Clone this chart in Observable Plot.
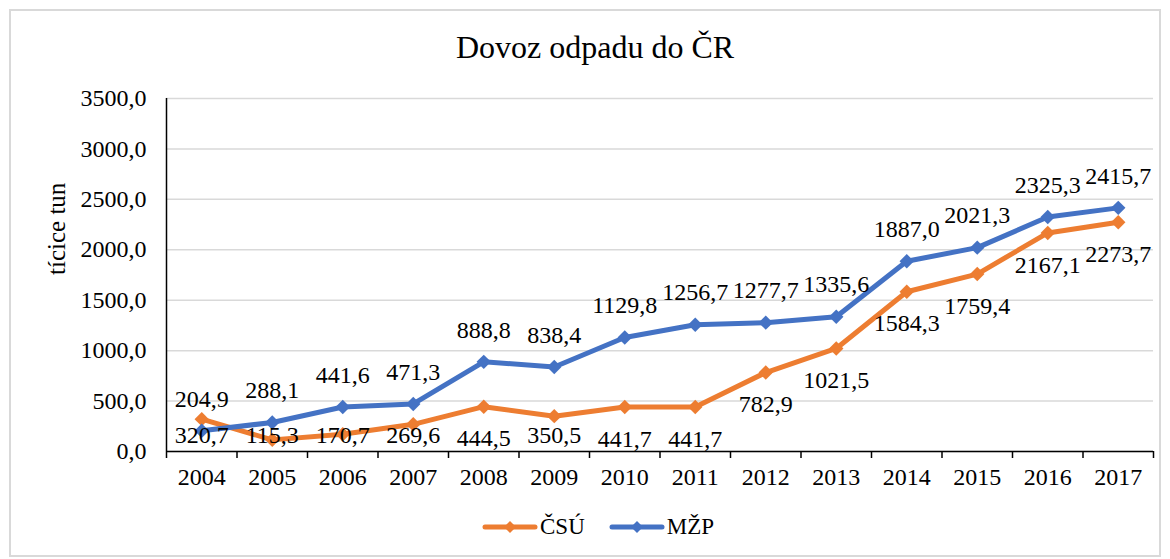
<!DOCTYPE html>
<html>
<head>
<meta charset="utf-8">
<script src="https://cdn.jsdelivr.net/npm/d3@7"></script>
<script src="https://cdn.jsdelivr.net/npm/@observablehq/plot@0.6"></script>
<style>
  html, body { margin: 0; padding: 0; background: #fff; }
  body { width: 1170px; height: 559px; position: relative; overflow: hidden; font-family: "Liberation Serif", Tinos, "Times New Roman", "DejaVu Serif", serif; color: #000; }
  #frame { position: absolute; left: 9px; top: 9px; width: 1152px; height: 548px; border: 2px solid #d9d9d9; box-sizing: border-box; }
  #title { position: absolute; left: 0; top: 31px; width: 1190px; text-align: center; font-size: 32px; line-height: 1; }
  #chart { position: absolute; left: 0; top: 0; }
  #legend { position: absolute; left: 482px; top: 515px; display: flex; align-items: center; font-size: 23px; line-height: 1; }
  .item { display: flex; align-items: center; margin-right: 24px; }
  .item svg { margin-right: 2px; }
</style>
</head>
<body>
<div id="frame"></div>
<div id="title">Dovoz odpadu do ČR</div>
<div id="chart"></div>
<div id="legend"></div>
<script>
const years = [2004, 2005, 2006, 2007, 2008, 2009, 2010, 2011, 2012, 2013, 2014, 2015, 2016, 2017];
const csu = [320.7, 115.3, 170.7, 269.6, 444.5, 350.5, 441.7, 441.7, 782.9, 1021.5, 1584.3, 1759.4, 2167.1, 2273.7];
const mzp = [204.9, 288.1, 441.6, 471.3, 888.8, 838.4, 1129.8, 1256.7, 1277.7, 1335.6, 1887.0, 2021.3, 2325.3, 2415.7];
const seriesNames = ["ČSÚ", "MŽP"];
const seriesColors = ["#ED7D31", "#4472C4"];
const yTicks = [0, 500, 1000, 1500, 2000, 2500, 3000, 3500];
const yLabel = "tícice tun";

const fmt = v => d3.format(".1f")(v).replace(".", ",");
const csuData = years.map((y, i) => ({year: y, value: csu[i], series: seriesNames[0]}));
const mzpData = years.map((y, i) => ({year: y, value: mzp[i], series: seriesNames[1]}));
const boundaries = [...years.map(y => y - 0.5), years[years.length - 1] + 0.5];

const FONT = "'Liberation Serif', Tinos, 'Times New Roman', 'DejaVu Serif', serif";
const FS = 24;
const chart = Plot.plot({
  width: 1170,
  height: 500,
  marginLeft: 166,
  marginRight: 17,
  marginTop: 98,
  marginBottom: 49,
  style: {fontFamily: FONT, fontSize: FS + "px", color: "#000", background: "transparent"},
  x: {type: "linear", domain: [boundaries[0], boundaries[boundaries.length - 1]], axis: null},
  y: {domain: [0, 3500], axis: null},
  color: {domain: seriesNames, range: seriesColors},
  marks: [
    Plot.gridY(yTicks, {stroke: "#d9d9d9", strokeOpacity: 1, strokeWidth: 1.5}),
    Plot.axisY(yTicks, {tickSize: 0, tickPadding: 20, tickFormat: fmt, fontSize: FS, fontFamily: FONT, label: null}),
    Plot.axisX(boundaries, {tickSize: 7, tickFormat: () => "", stroke: "#000", strokeWidth: 1.5, label: null}),
    Plot.axisX(years, {tickSize: 0, tickPadding: 16, tickFormat: d => String(d), fontSize: FS, fontFamily: FONT, label: null}),
    Plot.ruleX([boundaries[0]], {stroke: "#000", strokeWidth: 1.5}),
    Plot.ruleY([0], {stroke: "#000", strokeWidth: 1.5}),
    Plot.text([yLabel], {text: d => d, frameAnchor: "left", rotate: -90, dx: -110, fontSize: 25, fontFamily: FONT}),
    Plot.line(csuData, {x: "year", y: "value", stroke: "series", strokeWidth: 5, strokeLinejoin: "round", strokeLinecap: "round"}),
    Plot.dot(csuData, {x: "year", y: "value", fill: "series", symbol: "diamond2", r: 6.5}),
    Plot.line(mzpData, {x: "year", y: "value", stroke: "series", strokeWidth: 5, strokeLinejoin: "round", strokeLinecap: "round"}),
    Plot.dot(mzpData, {x: "year", y: "value", fill: "series", symbol: "diamond2", r: 6.5}),
    Plot.text(mzpData, {x: "year", y: "value", text: d => fmt(d.value), dy: -32, fontSize: FS, fontFamily: FONT, fill: "#000"}),
    Plot.text(csuData.filter(d => d.value >= 400), {x: "year", y: "value", text: d => fmt(d.value), dy: 32, fontSize: FS, fontFamily: FONT, fill: "#000"}),
    Plot.text(csuData.filter(d => d.value < 400), {x: "year", text: d => fmt(d.value), frameAnchor: "bottom", dy: -9, fontSize: FS, fontFamily: FONT, fill: "#000"})
  ]
});
document.getElementById("chart").appendChild(chart);

const legend = document.getElementById("legend");
seriesNames.forEach((name, i) => {
  const item = document.createElement("div");
  item.className = "item";
  item.innerHTML = `<svg width="56" height="20"><line x1="3" y1="10" x2="53" y2="10" stroke="${seriesColors[i]}" stroke-width="5" stroke-linecap="round"/><path d="M28,4 L34,10 L28,16 L22,10 Z" fill="${seriesColors[i]}"/></svg><span>${name}</span>`;
  legend.appendChild(item);
});
</script>
</body>
</html>
